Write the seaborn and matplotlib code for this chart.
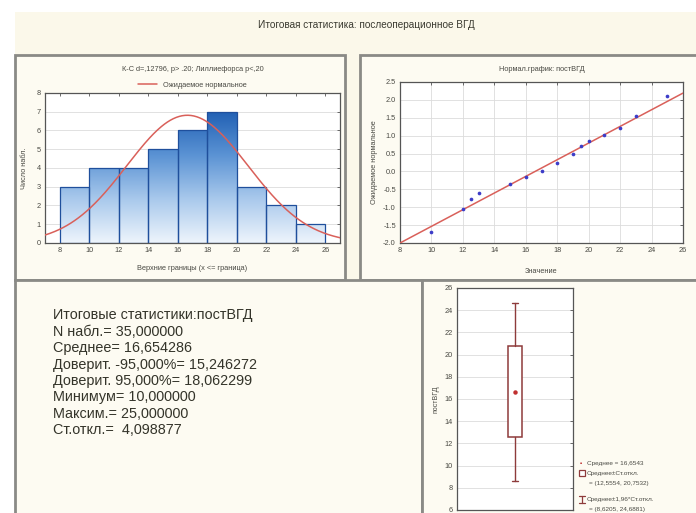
import numpy as np
import pandas as pd
import matplotlib
matplotlib.use("Agg")
import matplotlib.pyplot as plt
from matplotlib.patches import Rectangle
from matplotlib.lines import Line2D
from matplotlib.colors import LinearSegmentedColormap
import seaborn as sns

# ---- data -------------------------------------------------------------
bin_edges = [8, 10, 12, 14, 16, 18, 20, 22, 24, 26]
bin_counts = [3, 4, 4, 5, 6, 7, 3, 2, 1]

n_obs = 35
mean_val = 16.654286
ci_low = 15.246272
ci_high = 18.062299
min_val = 10.0
max_val = 25.0
sd_val = 4.098877

qq_values = [10, 12, 12.5, 13, 15, 16, 17, 18, 19, 19.5, 20, 21, 22, 23, 25]
qq_expected = [-1.69, -1.04, -0.77, -0.59, -0.34, -0.16, 0.02, 0.23, 0.50,
               0.72, 0.86, 1.02, 1.22, 1.56, 2.10]
fit_x = [8, 26]
fit_y = [-2.0, 2.19]

hist_xticks = [8, 10, 12, 14, 16, 18, 20, 22, 24, 26]
hist_yticks = [0, 1, 2, 3, 4, 5, 6, 7, 8]
qq_yticks = [-2.0, -1.5, -1.0, -0.5, 0.0, 0.5, 1.0, 1.5, 2.0, 2.5]
box_yticks = [6, 8, 10, 12, 14, 16, 18, 20, 22, 24, 26]

# ---- style ------------------------------------------------------------
sns.set_theme(style="white")
plt.rcParams["font.family"] = ["Liberation Sans", "DejaVu Sans"]

W, H = 696, 513
CREAM = "#fbf8ea"
PANEL = "#fdfbf2"
BORDER = "#8a8a86"
TXT = "#4a4a44"
GRID = "#dcdcdc"
RED = "#d9605a"

fig = plt.figure(figsize=(W / 100, H / 100), dpi=100)
fig.patch.set_facecolor("white")


def fig_rect(x0, y0, x1, y1):
    return [x0 / W, 1 - y1 / H, (x1 - x0) / W, (y1 - y0) / H]


def panel(x0, y0, x1, y1, face=PANEL, lw=2.0):
    r = Rectangle((x0 / W, 1 - y1 / H), (x1 - x0) / W, (y1 - y0) / H,
                  transform=fig.transFigure, facecolor=face,
                  edgecolor=BORDER, linewidth=lw, zorder=0)
    fig.add_artist(r)


# cream backdrop and the four framed panels
fig.add_artist(Rectangle((15 / W, 0), (W - 15) / W, 1 - 12 / H,
                         transform=fig.transFigure, facecolor=CREAM,
                         edgecolor="none", zorder=-1))
panel(15, 55, 345, 280)
panel(360, 55, 700, 280)
panel(15, 280, 422, 520)
panel(422, 280, 700, 520)

fig.text(366 / W, 1 - 25 / H, "Итоговая статистика: послеоперационное ВГД",
         ha="center", va="center", fontsize=7.2, color="#3a3a30")


def style_axes(ax, grid_x=False):
    ax.set_facecolor("white")
    for s in ax.spines.values():
        s.set_color("#555555")
        s.set_linewidth(0.9)
    ax.tick_params(direction="in", length=2.5, width=0.6, colors="#555555",
                   labelsize=5.3, labelcolor=TXT, top=True, right=True,
                   pad=3)
    ax.grid(axis="y", color=GRID, linewidth=0.6)
    if grid_x:
        ax.grid(axis="x", color=GRID, linewidth=0.6)
    ax.set_axisbelow(True)


# ---- histogram with expected normal curve -----------------------------
ax1 = fig.add_axes(fig_rect(45, 93, 340, 243))
centers = [(a + b) / 2 for a, b in zip(bin_edges[:-1], bin_edges[1:])]
hist_df = pd.DataFrame({"x": centers, "w": bin_counts})
sns.histplot(data=hist_df, x="x", weights="w", bins=bin_edges, ax=ax1,
             stat="count", color="#3a78c8", edgecolor="#1f4f9c",
             linewidth=0.9, alpha=1)
grad_cmap = LinearSegmentedColormap.from_list(
    "bars", ["#eef5fc", "#a9c9ec", "#5b93d4", "#2160b4"])
grad = np.linspace(0, 1, 256).reshape(-1, 1)
for p in ax1.patches:
    x0, w = p.get_x(), p.get_width()
    p.set_facecolor("none")
    im = ax1.imshow(grad, cmap=grad_cmap, origin="lower", aspect="auto",
                    extent=(x0, x0 + w, 0, 7), zorder=p.get_zorder() - 0.1)
    im.set_clip_path(p)

# expected counts per 2-unit bin under a normal law with the sample mean / SD
xs = np.linspace(7, 27, 300)
binw = bin_edges[1] - bin_edges[0]
expected = n_obs * binw * np.exp(-0.5 * ((xs - mean_val) / sd_val) ** 2) / (
    sd_val * np.sqrt(2 * np.pi))
ax1.plot(xs, expected, color=RED, linewidth=1.1, zorder=5)

ax1.set_xlim(7, 27)
ax1.set_ylim(0, 8)
ax1.set_xticks(hist_xticks)
ax1.set_yticks(hist_yticks)
style_axes(ax1)
ax1.set_xlabel("Верхние границы (x <= граница)", fontsize=5.3, color=TXT,
               labelpad=8)
ax1.set_ylabel("Число набл.", fontsize=5.3, color=TXT, labelpad=6)
ax1.set_title("К-С d=,12796, p> .20; Лиллиефорса p<,20", fontsize=5.3,
              color=TXT, pad=16)
ax1.legend(handles=[Line2D([], [], color=RED, linewidth=1.1)],
           labels=["Ожидаемое нормальное"], loc="lower center",
           bbox_to_anchor=(0.5, 1.0), frameon=False, fontsize=5.3,
           handlelength=2.6, borderaxespad=0.2, labelcolor=TXT)

# ---- normal probability plot ------------------------------------------
ax2 = fig.add_axes(fig_rect(400, 82, 683, 243))
sns.lineplot(x=fit_x, y=fit_y, ax=ax2, color=RED, linewidth=1.1, zorder=3)
sns.scatterplot(x=qq_values, y=qq_expected, ax=ax2, color="#3c3cc8",
                s=7, linewidth=0, zorder=4)
ax2.set_xlim(8, 26)
ax2.set_ylim(-2.0, 2.5)
ax2.set_xticks(hist_xticks)
ax2.set_yticks(qq_yticks)
ax2.set_yticklabels([f"{v:.1f}" for v in qq_yticks])
style_axes(ax2, grid_x=True)
ax2.set_xlabel("Значение", fontsize=5.3, color=TXT, labelpad=10)
ax2.set_ylabel("Ожидаемое нормальное", fontsize=5.3, color=TXT, labelpad=4)
ax2.set_title("Нормал.график: постВГД", fontsize=5.3, color=TXT, pad=8)

# ---- summary statistics text ------------------------------------------
def ru(v, nd=6):
    return f"{v:.{nd}f}".replace(".", ",")


stat_lines = [
    "Итоговые статистики:постВГД",
    f"N набл.= {ru(n_obs)}",
    f"Среднее= {ru(mean_val)}",
    f"Доверит. -95,000%= {ru(ci_low)}",
    f"Доверит. 95,000%= {ru(ci_high)}",
    f"Минимум= {ru(min_val)}",
    f"Максим.= {ru(max_val)}",
    f"Ст.откл.=  {ru(sd_val)}",
]
for i, line in enumerate(stat_lines):
    fig.text(53 / W, 1 - (315 + i * 16.5) / H, line, ha="left", va="center",
             fontsize=10.4, color="#34342a")

# ---- mean / SD box plot -----------------------------------------------
ax3 = fig.add_axes(fig_rect(457, 288, 573, 510))
box_stats = [{
    "med": mean_val, "mean": mean_val,
    "q1": mean_val - sd_val, "q3": mean_val + sd_val,
    "whislo": mean_val - 1.96 * sd_val, "whishi": mean_val + 1.96 * sd_val,
    "fliers": [],
}]
BOXC = "#8e3b3b"
ax3.bxp(box_stats, positions=[0], widths=0.24, showmeans=True,
        showfliers=False, patch_artist=True,
        boxprops=dict(facecolor="white", edgecolor=BOXC, linewidth=1.1),
        whiskerprops=dict(color=BOXC, linewidth=1.0),
        capprops=dict(color=BOXC, linewidth=1.0),
        medianprops=dict(linewidth=0),
        meanprops=dict(marker="o", markerfacecolor="#c03030",
                       markeredgecolor="#c03030", markersize=2.2),
        capwidths=0.1)
ax3.set_xlim(-1, 1)
ax3.set_ylim(6, 26)
ax3.set_yticks(box_yticks)
ax3.set_xticks([])
style_axes(ax3)
ax3.tick_params(top=False, bottom=False)
ax3.set_ylabel("постВГД", fontsize=5, color=TXT, labelpad=4)

lx = 587 / W
leg_fs = 4.6
fig.text(581 / W, 1 - 463 / H, "▪", color="#c03030", fontsize=4.5,
         ha="center", va="center")
fig.text(lx, 1 - 463 / H, f"Среднее = {ru(mean_val, 4)}", fontsize=leg_fs,
         color=TXT, va="center")
fig.add_artist(Rectangle((579 / W, 1 - 476 / H), 6 / W, 6 / H,
                         transform=fig.transFigure, facecolor="white",
                         edgecolor=BOXC, linewidth=0.9))
fig.text(lx, 1 - 473 / H, "Среднее±Ст.откл.", fontsize=leg_fs, color=TXT,
         va="center")
fig.text(589 / W, 1 - 483 / H,
         f"= ({ru(mean_val - sd_val, 4)}, {ru(mean_val + sd_val, 4)})",
         fontsize=leg_fs, color=TXT, va="center")
fig.add_artist(Line2D([582 / W, 582 / W], [1 - 496 / H, 1 - 503 / H],
                      transform=fig.transFigure, color=BOXC, linewidth=0.9))
fig.add_artist(Line2D([579 / W, 585 / W], [1 - 496 / H, 1 - 496 / H],
                      transform=fig.transFigure, color=BOXC, linewidth=0.9))
fig.add_artist(Line2D([579 / W, 585 / W], [1 - 503 / H, 1 - 503 / H],
                      transform=fig.transFigure, color=BOXC, linewidth=0.9))
fig.text(lx, 1 - 499 / H, "Среднее±1,96*Ст.откл.", fontsize=leg_fs,
         color=TXT, va="center")
fig.text(589 / W, 1 - 509 / H,
         f"= ({ru(mean_val - 1.96 * sd_val, 4)}, "
         f"{ru(mean_val + 1.96 * sd_val, 4)})",
         fontsize=leg_fs, color=TXT, va="center")

fig.savefig("out.png", dpi=100, facecolor=fig.get_facecolor())
